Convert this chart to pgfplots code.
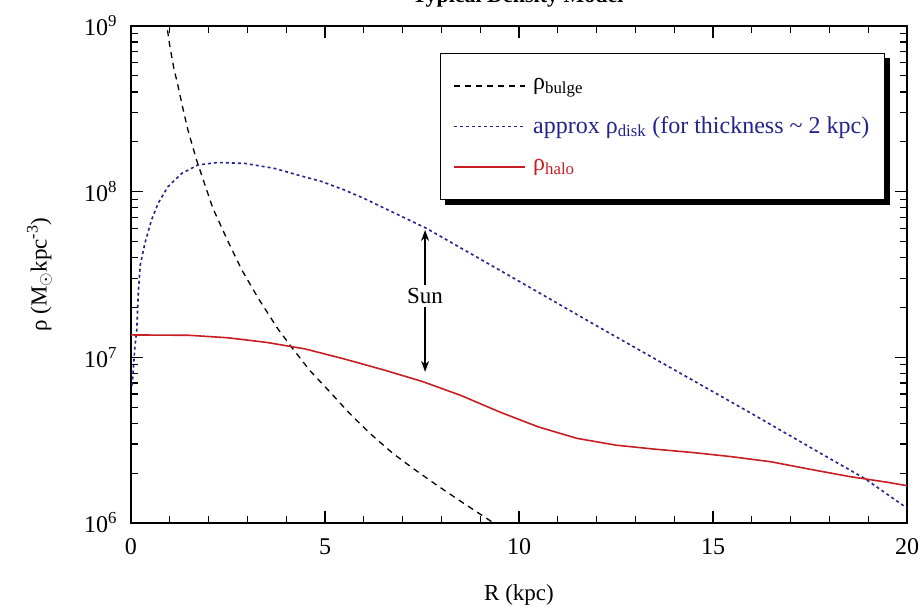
\documentclass[border=0pt]{standalone}
\usepackage{pgfplots}
\pgfplotsset{compat=1.18}
\usepackage{fontspec}
\setmainfont{Liberation Serif}
\usetikzlibrary{arrows.meta}
\pgfdeclarelayer{background}
\pgfsetlayers{background,main}
\definecolor{diskblue}{RGB}{35,35,140}
\definecolor{halored}{RGB}{200,30,35}

\pgfplotstableread{
R rho
0.90 1.096e9
1.00 7.59e8
1.10 5.62e8
1.20 4.47e8
1.34 3.16e8
1.47 2.34e8
1.69 1.55e8
2.11 7.94e7
2.50 5.01e7
2.85 3.39e7
3.27 2.29e7
3.79 1.48e7
4.14 1.15e7
4.61 8.32e6
5.13 6.17e6
5.64 4.57e6
6.16 3.47e6
6.75 2.63e6
7.30 2.11e6
7.90 1.68e6
8.50 1.35e6
9.25 1.035e6
9.40 9.77e5
}\bulge

\pgfplotstableread{
R rho
0.03 6.76e6
0.10 1.15e7
0.15 1.48e7
0.19 2.51e7
0.24 3.63e7
0.36 4.90e7
0.53 6.76e7
0.70 8.51e7
0.95 1.07e8
1.31 1.29e8
1.73 1.45e8
2.24 1.50e8
2.94 1.48e8
3.71 1.38e8
4.30 1.26e8
4.92 1.15e8
5.50 1.023e8
6.00 9.12e7
6.80 7.41e7
7.60 6.03e7
8.80 4.17e7
10.0 2.88e7
12.0 1.55e7
14.0 8.41e6
16.0 4.57e6
18.0 2.455e6
18.9 1.862e6
20.0 1.23e6
}\disk

\pgfplotstableread{
R rho
0.0 1.365e7
1.5 1.358e7
2.5 1.312e7
3.5 1.230e7
4.5 1.122e7
5.5 9.77e6
6.5 8.41e6
7.5 7.16e6
8.5 5.89e6
9.5 4.68e6
10.5 3.80e6
11.5 3.24e6
12.5 2.95e6
13.5 2.79e6
14.5 2.66e6
15.5 2.51e6
16.5 2.34e6
17.5 2.11e6
18.5 1.91e6
19.5 1.76e6
20.0 1.68e6
}\halo

\begin{document}
\fontsize{23}{27}\selectfont
\begin{tikzpicture}[x=1pt,y=1pt]
\begin{axis}[
  at={(131pt,87pt)}, anchor=south west,
  scale only axis, width=776pt, height=497pt,
  xmin=0, xmax=20, ymin=1e6, ymax=1e9, ymode=log,
  xtick={0,5,10,15,20}, xticklabels={0,5,10,15,20},
  minor xtick={1,2,3,4,6,7,8,9,11,12,13,14,16,17,18,19},
  ytick={1e6,1e7,1e8,1e9},
  yticklabels={10\textsuperscript{6},10\textsuperscript{7},10\textsuperscript{8},10\textsuperscript{9}},
  minor ytick={2e6,3e6,4e6,5e6,6e6,7e6,8e6,9e6,2e7,3e7,4e7,5e7,6e7,7e7,8e7,9e7,2e8,3e8,4e8,5e8,6e8,7e8,8e8,9e8},
  tick align=inside, major tick length=12pt, minor tick length=7pt,
  every tick/.style={black, line width=1.2pt},
  axis line style={line width=1.8pt},
  tick label style={font=\fontsize{24}{28}\selectfont},
  xticklabel style={yshift=-8pt},
  yticklabel style={xshift=-6pt},
  label style={font=\fontsize{23}{27}\selectfont},
  xlabel={R (kpc)},
  xlabel style={at={(axis description cs:0.5,-0.145)}, anchor=center},
  ylabel={ρ (M$_\odot$kpc\textsuperscript{-3})},
  ylabel style={at={(axis description cs:-0.118,0.5)}, anchor=center},
  clip=true,
  legend cell align=left,
  legend image code/.code={\draw[#1] (0pt,0pt) -- (71pt,0pt);},
  legend style={name=leg, at={(axis description cs:0.398,0.946)}, anchor=north west,
    draw=black, line width=1.5pt, fill=white,
    inner xsep=13pt, inner ysep=23pt, row sep=19pt, column sep=5pt,
    font=\fontsize{24}{28}\selectfont},
]
\addplot[black, line width=1.3pt, dash pattern=on 6pt off 5pt] table[x=R,y=rho] {\bulge};
\addlegendentry{ρ\textsubscript{bulge}}
\addplot[diskblue, line width=1.6pt, dash pattern=on 3pt off 3pt] table[x=R,y=rho] {\disk};
\addlegendentry{\textcolor{diskblue}{approx ρ\textsubscript{disk} (for thickness \textasciitilde{} 2 kpc)}}
\addplot[halored, line width=1.6pt] table[x=R,y=rho] {\halo};
\addlegendentry{\textcolor{halored}{ρ\textsubscript{halo}}}
\draw[{Stealth[length=11pt,width=8pt]}-{Stealth[length=11pt,width=8pt]}, line width=1.3pt]
  (axis cs:7.58,5.87e7) -- (axis cs:7.58,8.17e6);
\node[fill=white, inner sep=3pt] at (axis cs:7.58,2.34e7) {Sun};
\end{axis}
\begin{pgfonlayer}{background}
\fill[black] ([xshift=5pt,yshift=-5pt]leg.south west) rectangle ([xshift=5pt,yshift=-5pt]leg.north east);
\end{pgfonlayer}
\node[font=\bfseries\fontsize{22}{26}\selectfont, anchor=base] at (518pt,607pt) {Typical Density Model};
\pgfresetboundingbox
\useasboundingbox (0pt,0pt) rectangle (921pt,610pt);
\end{tikzpicture}
\end{document}
